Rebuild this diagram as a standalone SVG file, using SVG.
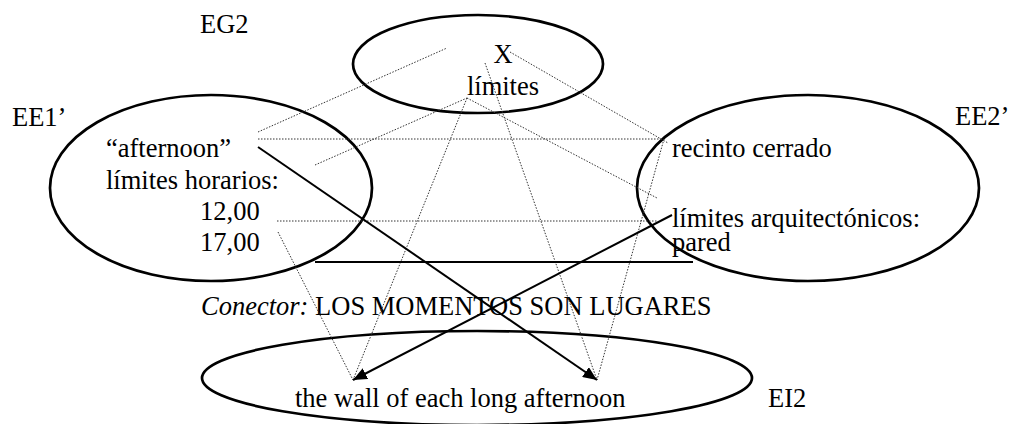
<svg xmlns="http://www.w3.org/2000/svg" width="1011" height="424" viewBox="0 0 1011 424">
<defs>
<style>
.t{font-family:"Liberation Serif","Times New Roman",serif;font-size:26.5px;fill:#000}
.i{font-style:italic}
.ell{fill:none;stroke:#000;stroke-width:2.7}
.dot{fill:none;stroke:#333;stroke-width:1;stroke-dasharray:1.5 1.5}
.sol{fill:none;stroke:#000;stroke-width:2}
</style>
<marker id="ah" markerUnits="userSpaceOnUse" markerWidth="16" markerHeight="12" refX="14" refY="6" orient="auto">
<path d="M0,0 L14,6 L0,12 Z" fill="#000"/>
</marker>
</defs>
<rect width="1011" height="424" fill="#fff"/>
<g id="labels">
<text class="t" x="200" y="33">EG2</text>
<text class="t" x="12" y="126">EE1’</text>
<text class="t" x="955" y="125">EE2’</text>
<text class="t" x="768" y="407">EI2</text>
<text class="t" x="201" y="315"><tspan class="i">Conector:</tspan> LOS MOMENTOS SON LUGARES</text>
</g>
<g id="EG2">
<ellipse class="ell" cx="478" cy="64" rx="125" ry="49"/>
<text class="t" x="503" y="63" text-anchor="middle">X</text>
<text class="t" x="503" y="95" text-anchor="middle">límites</text>
</g>
<g id="EE1">
<ellipse class="ell" cx="211" cy="188" rx="161" ry="93"/>
<text class="t" x="106" y="157">“afternoon”</text>
<text class="t" x="106" y="189">límites horarios:</text>
<text class="t" x="200" y="220">12,00</text>
<text class="t" x="200" y="251">17,00</text>
</g>
<g id="EE2">
<ellipse class="ell" cx="808" cy="188" rx="171" ry="93"/>
<text class="t" x="672" y="157">recinto cerrado</text>
<text class="t" x="672" y="227">límites arquitectónicos:</text>
<text class="t" x="672" y="251">pared</text>
</g>
<g id="EI2">
<ellipse class="ell" cx="477" cy="378" rx="275" ry="47"/>
<text class="t" x="295" y="407">the wall of each long afternoon</text>
</g>
<g id="connectors">
<line class="dot" x1="258" y1="132" x2="447" y2="48"/>
<line class="dot" x1="258" y1="139" x2="662" y2="139"/>
<line class="dot" x1="315" y1="165" x2="467" y2="98"/>
<line class="dot" x1="510" y1="52" x2="668" y2="143"/>
<line class="dot" x1="467" y1="98" x2="657" y2="198"/>
<line class="dot" x1="277" y1="221" x2="657" y2="221"/>
<line class="dot" x1="278" y1="232" x2="353" y2="380"/>
<line class="dot" x1="467" y1="98" x2="353" y2="380"/>
<line class="dot" x1="485" y1="63" x2="597" y2="380"/>
<line class="dot" x1="664" y1="139" x2="597" y2="380"/>
<line class="sol" x1="258" y1="147" x2="597" y2="380" marker-end="url(#ah)"/>
<line class="sol" x1="672" y1="215" x2="353" y2="380" marker-end="url(#ah)"/>
<line class="sol" x1="315" y1="262" x2="693" y2="262" stroke-width="2.5"/>
</g>
</svg>
